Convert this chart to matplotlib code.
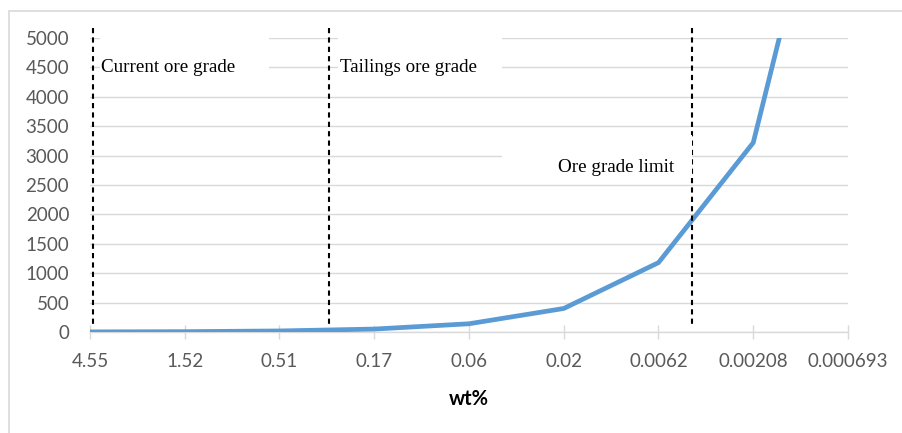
import numpy as np
import matplotlib.pyplot as plt
from matplotlib.patches import Rectangle

plt.rcParams['font.family'] = ['Lato', 'DejaVu Sans']

# categories (wt%) and series values
grades = ['4.55', '1.52', '0.51', '0.17', '0.06', '0.02', '0.0062', '0.00208', '0.000693']
values = [2, 6, 18, 50, 140, 400, 1180, 3220, 9700]

# marker lines (category index positions) and their labels
marker_pos = [0.03, 2.52, 6.35]
labels = ['Current ore grade', 'Tailings ore grade', 'Ore grade limit']

y_ticks = list(range(0, 5001, 500))

fig = plt.figure(figsize=(9.03, 4.33), dpi=100)
ax = fig.add_axes([90 / 903, 1 - 332 / 433, 758 / 903, 294 / 433])

# light frame around chart area
fig.patches.append(Rectangle((9 / 903, -0.1), 1.2, 1 - 11 / 433 + 0.1,
                             transform=fig.transFigure, fill=False,
                             edgecolor='#d9d9d9', linewidth=1.2))

x = np.arange(len(grades))
ax.plot(x, values, color='#5b9bd5', linewidth=3.4, solid_joinstyle='miter', zorder=3)

ax.set_xlim(0, len(grades) - 1)
ax.set_ylim(0, 5000)
ax.set_yticks(y_ticks)
ax.set_xticks(x)
ax.set_xticklabels(grades)
ax.grid(axis='y', color='#d9d9d9', linewidth=1.0, zorder=0)
ax.set_axisbelow(True)

for s in ['top', 'right', 'left']:
    ax.spines[s].set_visible(False)
ax.spines['bottom'].set_color('#d9d9d9')
ax.spines['bottom'].set_linewidth(1.0)

ax.tick_params(axis='y', length=0, pad=15, labelsize=13.5, labelcolor='#595959')
ax.tick_params(axis='x', direction='inout', length=10, color='#d9d9d9', width=1.0,
               pad=10, labelsize=13.5, labelcolor='#595959')

ax.set_xlabel('wt%', fontsize=14.5, fontweight='bold', color='black', labelpad=14)

# dashed vertical markers
for p in marker_pos:
    ax.plot([p, p], [5170, 60], color='black', linestyle=(0, (2.5, 2)),
            linewidth=1.5, clip_on=False, zorder=4)

# white label boxes hiding gridlines
boxes = [(0.106, 4280, 1.78, 860), (2.62, 4280, 1.73, 860), (4.35, 2620, 2.0, 730)]
for bx, by, bw, bh in boxes:
    ax.add_patch(Rectangle((bx, by), bw, bh, facecolor='white', edgecolor='none',
                           clip_on=False, zorder=5))

ax.text(0.12, 4490, labels[0], fontsize=13.7, family='Liberation Serif',
        va='center', ha='left', zorder=6)
ax.text(2.64, 4490, labels[1], fontsize=13.7, family='Liberation Serif',
        va='center', ha='left', zorder=6)
ax.text(6.17, 2800, labels[2], fontsize=13.7, family='Liberation Serif',
        va='center', ha='right', zorder=6)

plt.savefig('out.png', dpi=100)
